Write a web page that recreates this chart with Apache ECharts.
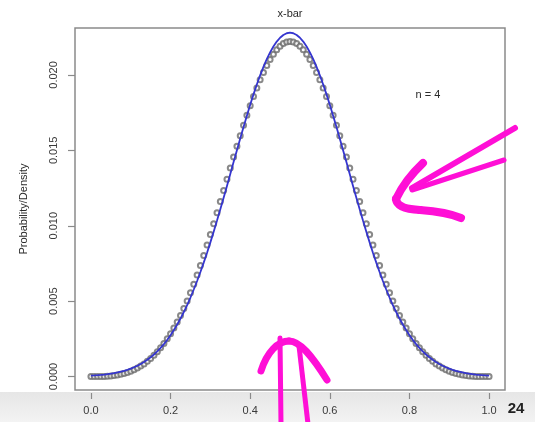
<!DOCTYPE html>
<html>
<head>
<meta charset="utf-8">
<script src="https://cdn.jsdelivr.net/npm/echarts@6/dist/echarts.min.js"></script>
<style>
html,body{margin:0;padding:0;background:#fff;}
#chart{width:535px;height:422px;}
</style>
</head>
<body>
<div id="chart"></div>
<script>
// x positions of the sample means (0 .. 1)
const xValues = [
0,0.0083,0.0167,0.025,0.0333,0.0417,0.05,0.0583,0.0667,0.075,0.0833,0.0917,
0.1,0.1083,0.1167,0.125,0.1333,0.1417,0.15,0.1583,0.1667,0.175,0.1833,0.1917,
0.2,0.2083,0.2167,0.225,0.2333,0.2417,0.25,0.2583,0.2667,0.275,0.2833,0.2917,
0.3,0.3083,0.3167,0.325,0.3333,0.3417,0.35,0.3583,0.3667,0.375,0.3833,0.3917,
0.4,0.4083,0.4167,0.425,0.4333,0.4417,0.45,0.4583,0.4667,0.475,0.4833,0.4917,
0.5,0.5083,0.5167,0.525,0.5333,0.5417,0.55,0.5583,0.5667,0.575,0.5833,0.5917,
0.6,0.6083,0.6167,0.625,0.6333,0.6417,0.65,0.6583,0.6667,0.675,0.6833,0.6917,
0.7,0.7083,0.7167,0.725,0.7333,0.7417,0.75,0.7583,0.7667,0.775,0.7833,0.7917,
0.8,0.8083,0.8167,0.825,0.8333,0.8417,0.85,0.8583,0.8667,0.875,0.8833,0.8917,
0.9,0.9083,0.9167,0.925,0.9333,0.9417,0.95,0.9583,0.9667,0.975,0.9833,0.9917,
1
];

// probabilities of x-bar (circles)
const probs = [
0,0.0000002,0.0000016,0.0000056,0.0000132,0.0000257,0.0000444,0.0000706,0.0001053,0.00015,
0.0002058,0.0002739,0.0003556,0.0004521,0.0005646,0.0006944,0.0008428,0.0010109,0.0012,0.0014113,
0.0016461,0.0019056,0.0021909,0.0025035,0.0028444,0.003215,0.0036165,0.00405,0.0045169,0.0050183,
0.0055556,0.006129,0.0067358,0.0073722,0.0080346,0.0087191,0.0094222,0.0101401,0.0108691,0.0116056,
0.0123457,0.0130858,0.0138222,0.0145512,0.0152691,0.0159722,0.0166568,0.0173191,0.0179556,0.0185623,
0.0191358,0.0196722,0.0201679,0.0206191,0.0210222,0.0213735,0.0216691,0.0219056,0.022079,0.0221858,
0.0222222,
0.0221858,0.022079,0.0219056,0.0216691,0.0213735,0.0210222,0.0206191,0.0201679,0.0196722,0.0191358,
0.0185623,0.0179556,0.0173191,0.0166568,0.0159722,0.0152691,0.0145512,0.0138222,0.0130858,0.0123457,
0.0116056,0.0108691,0.0101401,0.0094222,0.0087191,0.0080346,0.0073722,0.0067358,0.006129,0.0055556,
0.0050183,0.0045169,0.00405,0.0036165,0.003215,0.0028444,0.0025035,0.0021909,0.0019056,0.0016461,
0.0014113,0.0012,0.0010109,0.0008428,0.0006944,0.0005646,0.0004521,0.0003556,0.0002739,0.0002058,
0.00015,0.0001053,0.0000706,0.0000444,0.0000257,0.0000132,0.0000056,0.0000016,0.0000002,0
];

// normal density curve (scaled), blue line
const density = [
0.0000637,0.0000774,0.0000937,0.000113,0.000136,0.000163,0.000195,0.000232,0.000275,0.000326,
0.000384,0.000452,0.000529,0.000618,0.000719,0.000835,0.000965,0.001112,0.001278,0.001464,
0.001671,0.001901,0.002156,0.002436,0.002745,0.003083,0.00345,0.003849,0.004281,0.004745,
0.005242,0.005772,0.006335,0.006931,0.007558,0.008215,0.008899,0.009609,0.010342,0.011094,
0.011863,0.012643,0.013431,0.014221,0.015008,0.015788,0.016554,0.0173,0.018021,0.018711,
0.019364,0.019974,0.020537,0.021046,0.021498,0.021888,0.022212,0.022467,0.022651,0.022763,
0.0228,
0.022763,0.022651,0.022467,0.022212,0.021888,0.021498,0.021046,0.020537,0.019974,0.019364,
0.018711,0.018021,0.0173,0.016554,0.015788,0.015008,0.014221,0.013431,0.012643,0.011863,
0.011094,0.010342,0.009609,0.008899,0.008215,0.007558,0.006931,0.006335,0.005772,0.005242,
0.004745,0.004281,0.003849,0.00345,0.003083,0.002745,0.002436,0.002156,0.001901,0.001671,
0.001464,0.001278,0.001112,0.000965,0.000835,0.000719,0.000618,0.000529,0.000452,0.000384,
0.000326,0.000275,0.000232,0.000195,0.000163,0.000136,0.000113,0.0000937,0.0000774,0.0000637
];

const xTicks = [0, 0.2, 0.4, 0.6, 0.8, 1.0];
const yTicks = [0, 0.005, 0.010, 0.015, 0.020];

const FONT = '"Liberation Sans", Arial, Helvetica, sans-serif';
const MAG = '#ff0fd6';

function stroke(w) {
  return {stroke: MAG, lineWidth: w, lineCap: 'round', lineJoin: 'round', fill: null};
}

const chart = echarts.init(document.getElementById('chart'), null, {renderer: 'canvas'});
const option = {
  animation: false,
  backgroundColor: '#ffffff',
  textStyle: {fontFamily: FONT},
  grid: {
    left: 75, right: 30, top: 28, bottom: 32,
    show: true, borderColor: '#8a8a8a', borderWidth: 1.5, backgroundColor: 'transparent'
  },
  xAxis: {
    type: 'value', min: -0.04, max: 1.04, offset: 3,
    splitLine: {show: false},
    axisLine: {show: false, onZero: false},
    axisTick: {show: true, length: 6, lineStyle: {color: '#8a8a8a', width: 1.2}, customValues: xTicks},
    axisLabel: {customValues: xTicks, margin: 12, color: '#3a3a3a', fontSize: 11, fontFamily: FONT,
      formatter: v => v.toFixed(1)}
  },
  yAxis: {
    type: 'value', min: -0.000889, max: 0.023111,
    name: 'Probability/Density', nameLocation: 'middle', nameRotate: 90, nameGap: 46,
    nameTextStyle: {fontSize: 11, color: '#2a2a2a', fontFamily: FONT},
    splitLine: {show: false},
    axisLine: {show: false, onZero: false},
    axisTick: {show: true, length: 7, lineStyle: {color: '#8a8a8a', width: 1.2}, customValues: yTicks},
    axisLabel: {customValues: yTicks, rotate: 90, margin: 16, color: '#3a3a3a', fontSize: 11, fontFamily: FONT,
      formatter: v => v.toFixed(3)}
  },
  series: [
    {
      type: 'scatter', name: 'probability',
      data: probs.map((p, i) => [xValues[i], p]),
      symbol: 'emptyCircle', symbolSize: 5,
      itemStyle: {color: '#6b6b6b', borderWidth: 1},
      z: 2
    },
    {
      type: 'line', name: 'normal',
      data: density.map((d, i) => [xValues[i], d]),
      showSymbol: false, smooth: false,
      lineStyle: {color: '#3535cf', width: 1.8},
      z: 3
    }
  ],
  graphic: [
    {type: 'rect', z: -10, shape: {x: 0, y: 392, width: 535, height: 30},
     style: {fill: new echarts.graphic.LinearGradient(0, 0, 0, 1, [
       {offset: 0, color: '#e6e6e6'}, {offset: 1, color: '#f3f3f3'}])}},
    {type: 'text', x: 290, y: 14, style: {text: 'x-bar', fill: '#2a2a2a', font: '11px ' + FONT, textAlign: 'center', textVerticalAlign: 'middle'}},
    {type: 'text', x: 428, y: 95, style: {text: 'n = 4', fill: '#2a2a2a', font: '11px ' + FONT, textAlign: 'center', textVerticalAlign: 'middle'}},
    {type: 'text', x: 516, y: 409, style: {text: '24', fill: '#222', font: 'bold 15px ' + FONT, textAlign: 'center', textVerticalAlign: 'middle'}},
    // right magenta arrow
    {type: 'line', z: 20, shape: {x1: 515, y1: 128, x2: 412, y2: 188}, style: stroke(6)},
    {type: 'line', z: 20, shape: {x1: 504, y1: 160, x2: 412, y2: 190}, style: stroke(5)},
    {type: 'bezierCurve', z: 20, shape: {x1: 423, y1: 163, cpx1: 405, cpy1: 180, x2: 396, y2: 199}, style: stroke(8)},
    {type: 'bezierCurve', z: 20, shape: {x1: 396, y1: 199, cpx1: 397, cpy1: 209, x2: 420, y2: 210}, style: stroke(8)},
    {type: 'bezierCurve', z: 20, shape: {x1: 420, y1: 210, cpx1: 447, cpy1: 212, x2: 461, y2: 218}, style: stroke(8)},
    // bottom magenta arrow
    {type: 'line', z: 20, shape: {x1: 280, y1: 338, x2: 281, y2: 424}, style: stroke(5)},
    {type: 'bezierCurve', z: 20, shape: {x1: 299, y1: 346, cpx1: 303, cpy1: 380, x2: 308, y2: 424}, style: stroke(5)},
    {type: 'bezierCurve', z: 20, shape: {x1: 261, y1: 371, cpx1: 267, cpy1: 352, cpx2: 278, cpy2: 341, x2: 289, y2: 341}, style: stroke(7)},
    {type: 'bezierCurve', z: 20, shape: {x1: 289, y1: 341, cpx1: 300, cpy1: 341, cpx2: 312, cpy2: 356, x2: 327, y2: 380}, style: stroke(7)}
  ]
};
chart.setOption(option);
</script>
</body>
</html>
